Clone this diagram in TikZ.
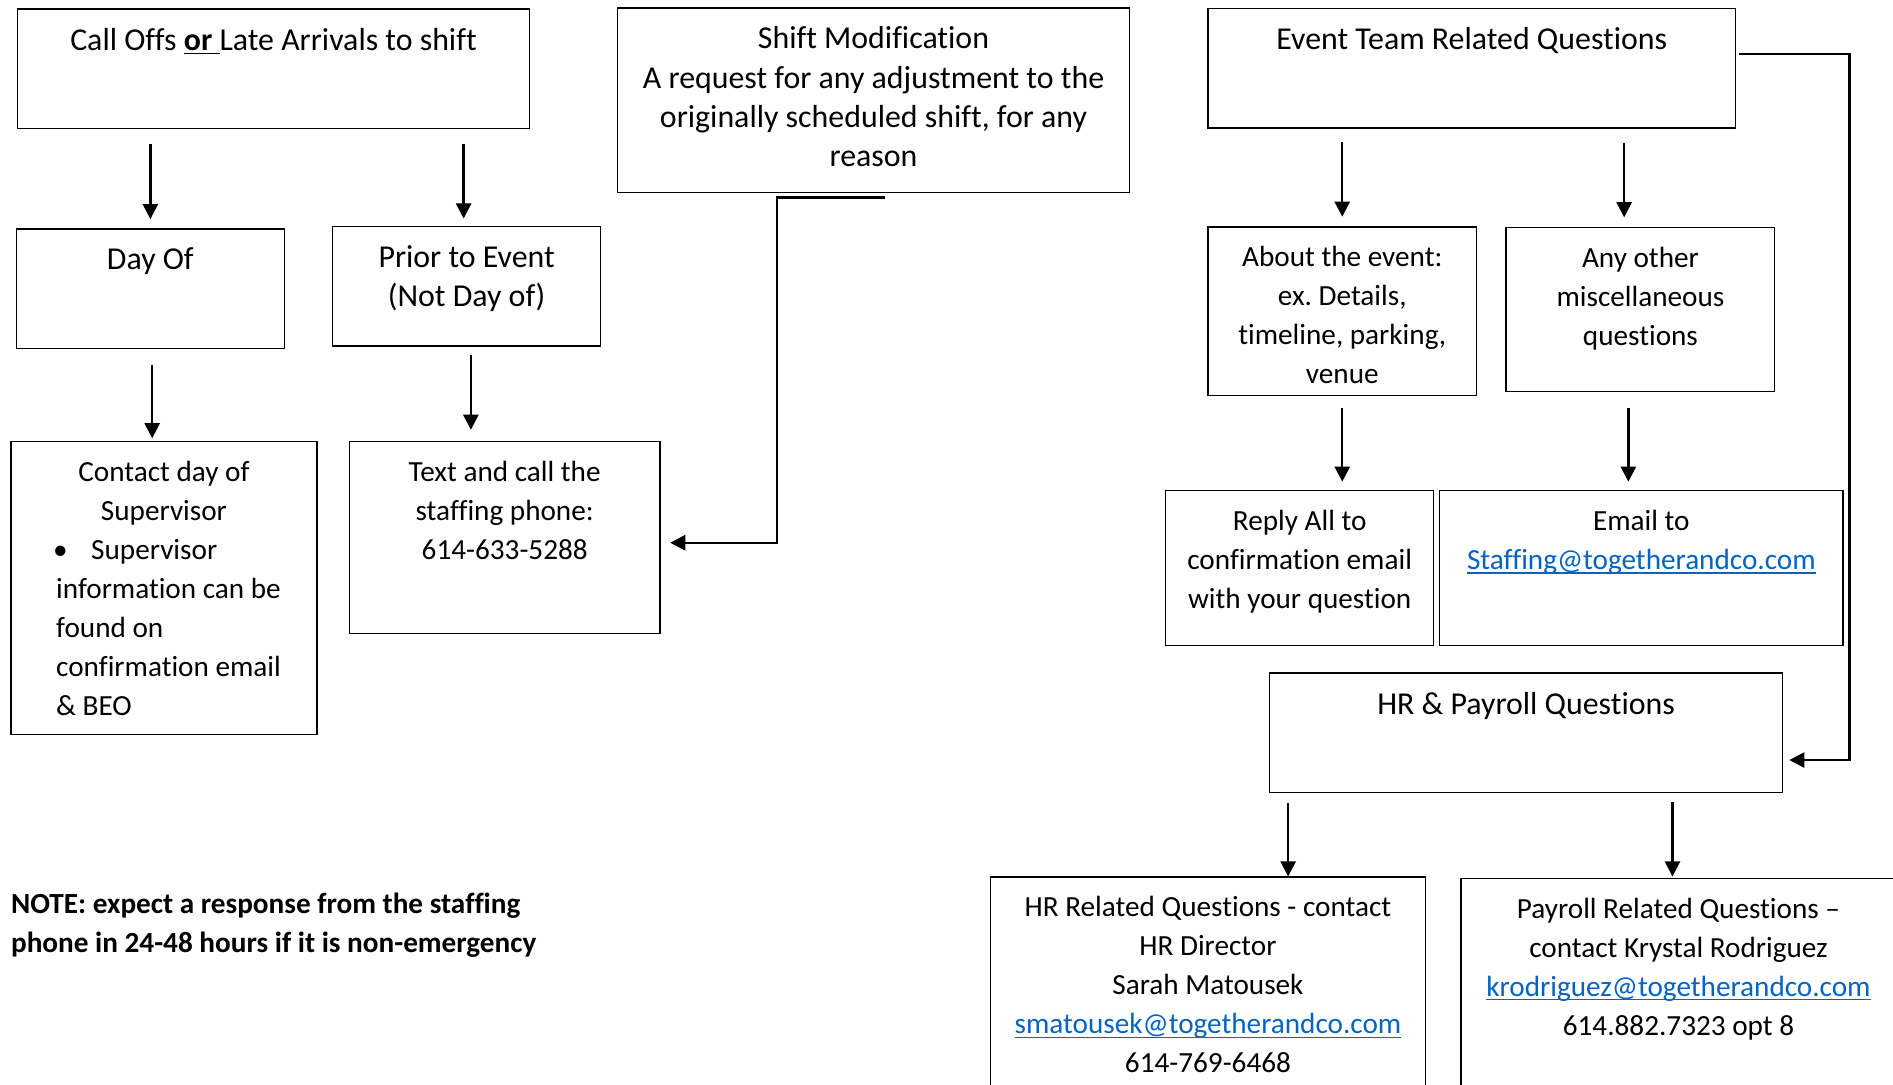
\documentclass[tikz,border=0pt]{standalone}
\usepackage{fontspec}
\setmainfont{Carlito}[Ligatures=NoCommon]
\usepackage{tikz}
\usetikzlibrary{arrows.meta, positioning, calc}
\definecolor{linkblue}{HTML}{0563C1}
\tikzset{
	box/.style={draw, line width=1.1pt, inner sep=0pt, anchor=north west, align=flush center, text height=34pt, font=\fontsize{26.4}{32.4}\selectfont},
	smallbox/.style={box, text height=33pt, font=\fontsize{24.2}{32.3}\selectfont},
	flow/.style={line width=2pt, -{Triangle[length=12.5pt,width=12.5pt]}},
	note/.style={inner sep=0pt, anchor=base west, align=flush left, text width=470pt, font=\fontsize{24.2}{32.3}\selectfont\bfseries}
}
\newcommand{\uline}[1]{\leavevmode\setbox0\hbox{#1}\rlap{\rule[-3.5pt]{\wd0}{1.4pt}}\box0}
\newcommand{\weblink}[1]{{\color{linkblue}\uline{#1}}}

\begin{document}
\frenchspacing
\begin{tikzpicture}[x=1pt, y=-1pt]
	\useasboundingbox (0,0) rectangle (1568,898.7);
	\clip (0,0) rectangle (1568,898.7);
	\node[box, text width=424pt, text depth=65pt] (calloff) at (14,7) {Call Offs \uline{\textbf{or} }Late Arrivals to shift};
	\node[box, text width=424pt, text depth=119pt] (shiftmod) at (511,6) {Shift Modification\\A request for any adjustment to the\\originally scheduled shift, for any\\reason};
	\node[box, text width=437pt, text depth=65pt] (eventteam) at (1000,6.5) {Event Team Related Questions};
	\node[box, text width=222pt, text depth=65pt] (dayof) at (13,189) {Day Of};
	\node[box, text width=222pt, text depth=65pt] (prior) at (275,187) {Prior to Event\\(Not Day of)};
	\node[smallbox, text width=222.5pt, text depth=106.5pt] (about) at (1000,187.5) {About the event:\\ex. Details,\\timeline, parking,\\venue};
	\node[smallbox, text width=222.5pt, text depth=102.5pt] (misc) at (1247,188) {Any other\\miscellaneous\\questions};
	\node[smallbox, text width=253.5pt, text depth=210pt] (supervisor) at (8.5,365) {Contact day of\\Supervisor\par\leftskip=37.5pt\makebox[29pt][l]{\hspace{-2.5pt}\textbullet}Supervisor\\information can be\\found on\\confirmation email\\\& BEO\par};
	\node[smallbox, text width=257pt, text depth=126pt] (phone) at (289,365) {Text and call the\\staffing phone:\\614-633-5288};
	\node[smallbox, text width=222pt, text depth=95pt] (replyall) at (965,406) {Reply All to\\confirmation email\\with your question};
	\node[smallbox, text width=334pt, text depth=95pt] (emailto) at (1192,406) {Email to\\\weblink{Staffing@togetherandco.com}};
	\node[box, text width=425pt, text depth=65pt] (hrpay) at (1051,557) {HR \& Payroll Questions};
	\node[smallbox, text width=360pt, text depth=201pt] (hrrel) at (820,726) {HR Related Questions - contact\\HR Director\\Sarah Matousek\\\weblink{smatousek@togetherandco.com}\\614-769-6468};
	\node[smallbox, text width=360.5pt, text depth=200pt] (payrel) at (1209.5,727) {Payroll Related Questions –\\contact Krystal Rodriguez\\\weblink{krodriguez@togetherandco.com}\\614.882.7323 opt 8};
	\node[note] (note) at (9,757) {NOTE: expect a response from the staffing\\phone in 24-48 hours if it is non-emergency};
	\draw[flow] ($(dayof.north |- calloff.south)+(0,12)$) -- ($(dayof.north)+(0,-7.5)$);
	\draw[flow] ($(prior.north |- calloff.south)+(-2.5,12)$) -- ($(prior.north)+(-2.5,-6)$);
	\draw[flow] ($(dayof.south)+(1.5,13)$) -- ($(dayof.south |- supervisor.north)+(1.5,-2)$);
	\draw[flow] ($(prior.south)+(3.5,7)$) -- ($(prior.south |- phone.north)+(3.5,-9)$);
	\draw[flow] ($(shiftmod.south)+(9.5,3.5)$) -- ++(-89.5,0) |- ($(phone.east)+(8,4.5)$);
	\draw[flow] ($(about.north |- eventteam.south)+(0,11)$) -- ($(about.north)+(0,-8)$);
	\draw[flow] ($(misc.north |- eventteam.south)+(-13.5,12)$) -- ($(misc.north)+(-13.5,-8)$);
	\draw[flow] ($(about.south)+(0,10)$) -- ($(about.south |- replyall.north)+(0,-7)$);
	\draw[flow] ($(misc.south)+(-10,13)$) -- ($(misc.south |- emailto.north)+(-10,-7)$);
	\draw[flow] ($(eventteam.east)+(2,-12)$) -- ++(92,0) |- ($(hrpay.east)+(5,22.5)$);
	\draw[flow] ($(hrpay.south west)+(16,8)$) -- ($(hrpay.south west |- hrrel.north)+(16,0)$);
	\draw[flow] ($(payrel.north |- hrpay.south)+(-5,7.5)$) -- ($(payrel.north)+(-5,-1)$);
\end{tikzpicture}
\end{document}
